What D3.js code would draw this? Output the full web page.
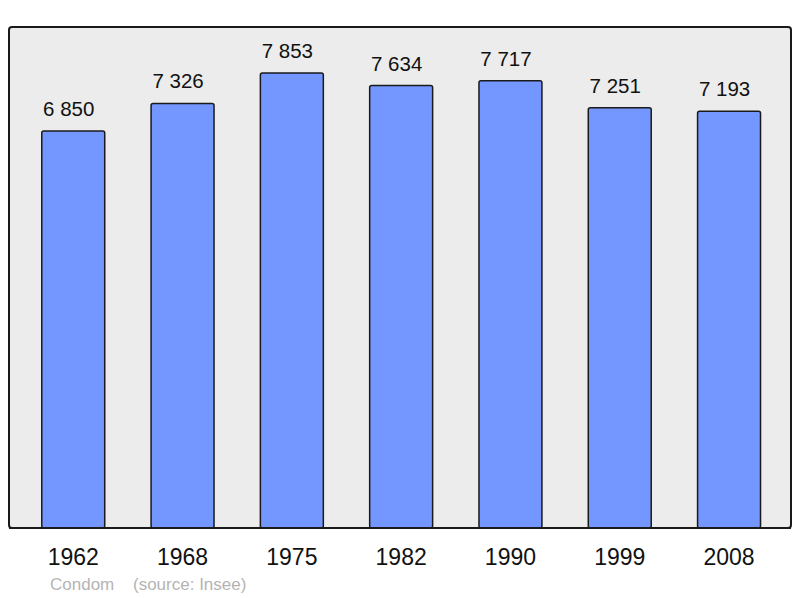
<!DOCTYPE html>
<html>
<head>
<meta charset="utf-8">
<script src="https://cdn.jsdelivr.net/npm/d3@7"></script>
<style>
  html, body { margin: 0; padding: 0; background: #fff; }
  svg { display: block; font-family: "Liberation Sans", Arial, sans-serif; }
</style>
</head>
<body>
<svg id="chart" width="800" height="598"></svg>
<script>
const YEARS = ['1962', '1968', '1975', '1982', '1990', '1999', '2008'];
const POPULATION = [6850, 7326, 7853, 7634, 7717, 7251, 7193];
const TOWN = 'Condom';
const SOURCE = '(source: Insee)';

function drawChart() {
  const svg = d3.select('#chart');
  const panel = { left: 9, top: 27, right: 791, bottom: 528 };
  const rows = YEARS.map((year, i) => ({ year, value: POPULATION[i] }));

  const x = d3.scaleBand()
    .domain(YEARS)
    .range([18.6, 783.7])
    .paddingInner(0.424)
    .paddingOuter(0.212);

  const y = d3.scaleLinear()
    .domain([0, 8645])
    .range([panel.bottom, panel.top]);

  svg.append('rect')
    .attr('x', panel.left)
    .attr('y', panel.top)
    .attr('width', panel.right - panel.left)
    .attr('height', panel.bottom - panel.top)
    .attr('rx', 3)
    .attr('fill', '#ececec')
    .attr('stroke', '#1a1a1a')
    .attr('stroke-width', 2);

  svg.append('g')
    .selectAll('rect')
    .data(rows)
    .enter()
    .append('rect')
    .attr('x', d => x(d.year))
    .attr('y', d => y(d.value))
    .attr('width', x.bandwidth())
    .attr('height', d => y(0) - y(d.value))
    .attr('rx', 2)
    .attr('fill', '#7396ff')
    .attr('stroke', '#1a1a1a')
    .attr('stroke-width', 1.5);

  // redraw the bottom edge so bars sit on the frame line
  svg.append('line')
    .attr('x1', panel.left)
    .attr('x2', panel.right)
    .attr('y1', panel.bottom)
    .attr('y2', panel.bottom)
    .attr('stroke', '#1a1a1a')
    .attr('stroke-width', 2);

  // value labels sit a little left of the bar centre in the original
  svg.append('g')
    .selectAll('text')
    .data(rows)
    .enter()
    .append('text')
    .attr('x', d => x(d.year) + x.bandwidth() / 2 - 4.5)
    .attr('y', d => y(d.value) - 15)
    .attr('text-anchor', 'middle')
    .attr('font-size', 20.5)
    .attr('fill', '#111')
    .text(d => d3.format(',')(d.value).replace(',', ' '));

  const axis = svg.append('g')
    .attr('transform', `translate(0, ${panel.bottom})`)
    .call(d3.axisBottom(x).tickSize(0).tickPadding(0));
  axis.select('.domain').remove();
  axis.selectAll('text')
    .attr('y', 37)
    .attr('dy', null)
    .attr('font-size', 23)
    .attr('font-family', '"Liberation Sans", Arial, sans-serif')
    .attr('fill', '#111');

  svg.append('text')
    .attr('x', 50)
    .attr('y', 590)
    .attr('font-size', 17)
    .attr('fill', '#b4b4b4')
    .text(TOWN);

  svg.append('text')
    .attr('x', 133)
    .attr('y', 590)
    .attr('font-size', 17)
    .attr('fill', '#b4b4b4')
    .text(SOURCE);
}

window.addEventListener('DOMContentLoaded', drawChart);
</script>
</body>
</html>
